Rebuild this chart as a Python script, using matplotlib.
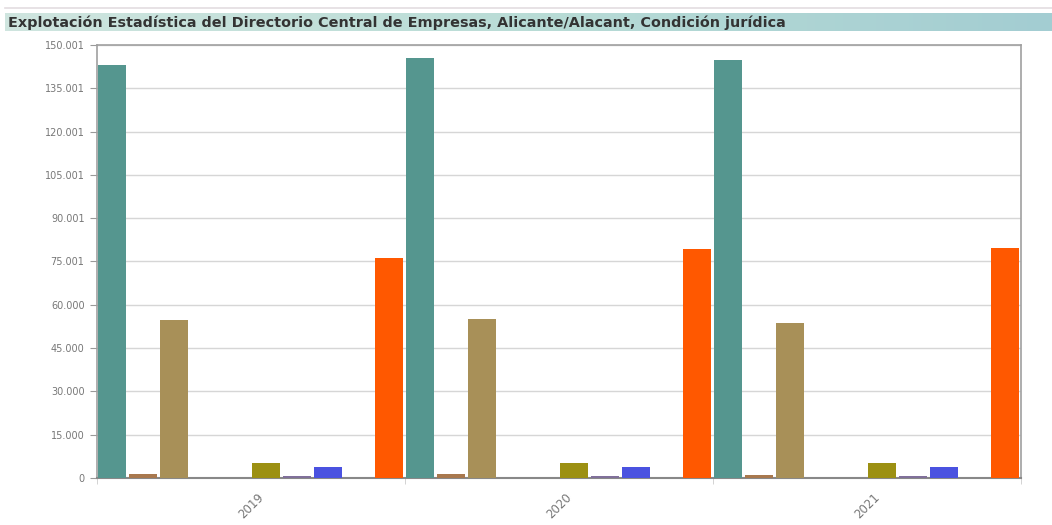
import numpy as np
import matplotlib
matplotlib.use("Agg")
import matplotlib.pyplot as plt
from matplotlib.ticker import FixedLocator
from matplotlib.colors import LinearSegmentedColormap

anios = ["2019", "2020", "2021"]
condiciones = [
    "Total",
    "Sociedades anónimas",
    "Sociedades de responsabilidad limitada",
    "Sociedades colectivas",
    "Sociedades comanditarias",
    "Comunidades de bienes",
    "Sociedades cooperativas",
    "Asociaciones y otros tipos",
    "Organismos autónomos y otros",
    "Personas físicas",
]
total = [143050, 145380, 144900]
anonimas = [1300, 1250, 1200]
limitada = [54900, 55000, 53800]
colectivas = [10, 10, 10]
comanditarias = [3, 3, 3]
comunidades = [5200, 5150, 5100]
cooperativas = [700, 700, 700]
asociaciones = [3700, 3800, 3800]
organismos = [150, 150, 150]
fisicas = [76300, 79200, 79750]

series = [total, anonimas, limitada, colectivas, comanditarias,
          comunidades, cooperativas, asociaciones, organismos, fisicas]
colores = ["#55968f", "#a8784e", "#a89058", "#9a9a9a", "#9a9a9a",
           "#9c9012", "#80709a", "#4a52e0", "#9a9a9a", "#ff5800"]

yticks = [0, 15000, 30000, 45000, 60000, 75001, 90001, 105001, 120001, 135001, 150001]
ylabels = ["0", "15.000", "30.000", "45.000", "60.000", "75.001", "90.001",
           "105.001", "120.001", "135.001", "150.001"]

fig = plt.figure(figsize=(10.52, 5.25), dpi=100)

# barra de titulo con degradado
tb = fig.add_axes([5 / 1052, 1 - 31 / 525, 1 - 5 / 1052, 18 / 525])
grad = np.linspace(0, 1, 256).reshape(1, -1)
cm = LinearSegmentedColormap.from_list("tb", ["#cfe5df", "#b9dcd6", "#a3cdd2"])
tb.imshow(grad, aspect="auto", cmap=cm, extent=[0, 1, 0, 1])
tb.set_xlim(0, 1)
tb.set_ylim(0, 1)
tb.axis("off")
tb.text(3 / 1047, 0.45, "Explotación Estadística del Directorio Central de Empresas, Alicante/Alacant, Condición jurídica",
        fontsize=10.4, fontweight="bold", color="#333333", family="DejaVu Sans",
        va="center", ha="left")
fig.add_artist(plt.Line2D([5 / 1052, 1], [1 - 8 / 525, 1 - 8 / 525], color="#e3dde0", lw=1.2))

ax = fig.add_axes([97 / 1052, 1 - 478 / 525, 924 / 1052, 433 / 525])
n = len(series)
slot = 1.0 / n
x = np.arange(len(anios))
for i, (vals, c) in enumerate(zip(series, colores)):
    ax.bar(x + i * slot + 0.003, vals, width=slot * 0.92, align="edge", color=c,
           label=condiciones[i], zorder=3)

ax.set_xlim(0, len(anios))
ax.set_ylim(0, 150001)
ax.yaxis.set_major_locator(FixedLocator(yticks))
ax.set_yticklabels(ylabels)
ax.set_xticks(x + 0.5)
ax.set_xticklabels(anios, rotation=45, ha="center")
ax.set_xticks(np.arange(len(anios) + 1), minor=True)
ax.tick_params(axis="x", which="major", length=0, pad=9, labelsize=8.5, labelcolor="#777777")
ax.tick_params(axis="x", which="minor", length=4, color="#cccccc")
ax.tick_params(axis="y", length=5, color="#999999", labelsize=7, labelcolor="#777777", pad=4)
ax.grid(axis="y", color="#d6d6d6", lw=1, zorder=0)
for s in ["left", "top", "right"]:
    ax.spines[s].set_color("#a0a0a0")
    ax.spines[s].set_linewidth(1.2)
ax.spines["bottom"].set_color("#888888")
ax.spines["bottom"].set_linewidth(1.5)

fig.savefig("out.png", dpi=100)
